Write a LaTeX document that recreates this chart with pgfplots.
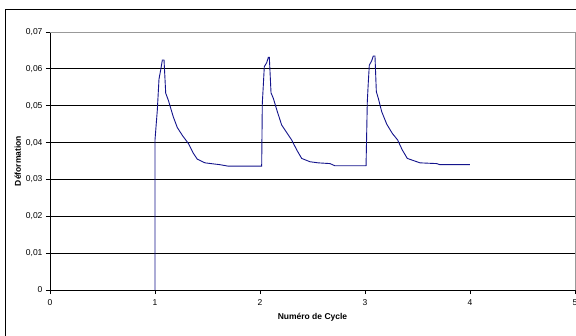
\documentclass[border=0pt]{standalone}
\usepackage{fontspec}
\setmainfont{Liberation Sans}
\usepackage{pgfplots}
\pgfplotsset{compat=1.18}
\definecolor{curve}{RGB}{20,20,140}
\begin{document}
\begin{tikzpicture}[x=1pt,y=1pt]
\useasboundingbox (0,0) rectangle (576,-335);
\fill[white] (0,0) rectangle (576,-335);
\draw[black,line width=0.8pt] (5,-9) rectangle (600,-360);
\begin{axis}[
  at={(50pt,-290pt)}, anchor=south west,
  scale only axis, width=525pt, height=258pt,
  xmin=0, xmax=5, ymin=0, ymax=0.07,
  axis x line=bottom, axis y line=left,
  axis line style={-, black, line width=0.9pt},
  xtick={0,1,2,3,4,5},
  ytick={0,0.01,0.02,0.03,0.04,0.05,0.06,0.07},
  scaled y ticks=false,
  tick align=outside, major tick length=4pt,
  tick style={black, line width=0.8pt},
  ymajorgrids, grid style={black, line width=0.9pt},
  /pgf/number format/assume math mode=true,
  /pgf/number format/use comma,
  yticklabel style={/pgf/number format/fixed, /pgf/number format/precision=2, font=\fontsize{8.5}{10}\selectfont},
  xticklabel style={font=\fontsize{8.5}{10}\selectfont, yshift=-2pt},
  xlabel={\textbf{Numéro de Cycle}},
  ylabel={\textbf{Déformation}},
  xlabel style={font=\fontsize{8.5}{10}\selectfont, yshift=-1pt},
  ylabel style={font=\fontsize{8.5}{10}\selectfont, yshift=-2pt},
  clip=false,
]
\addplot[curve, line width=0.9pt] coordinates {
(1.0,0) (1.0,0.0407) (1.022,0.0488) (1.038,0.0572) (1.054,0.0597) (1.070,0.0624) (1.086,0.0624)
(1.102,0.0534) (1.127,0.0515) (1.174,0.0470) (1.212,0.0441) (1.264,0.0418) (1.317,0.0398)
(1.365,0.0371) (1.403,0.0355) (1.476,0.0345) (1.619,0.0340) (1.698,0.0336) (2.016,0.0336)
(2.022,0.0507) (2.031,0.0552) (2.041,0.0606) (2.064,0.0617) (2.079,0.0631) (2.089,0.0631)
(2.105,0.0535) (2.127,0.0520) (2.165,0.0484) (2.206,0.0448) (2.248,0.0430) (2.302,0.0407)
(2.350,0.0380) (2.397,0.0357) (2.476,0.0348) (2.555,0.0345) (2.667,0.0343) (2.714,0.0337)
(3.010,0.0337) (3.022,0.0511) (3.031,0.0561) (3.041,0.0610) (3.064,0.0622) (3.079,0.0635)
(3.095,0.0635) (3.108,0.0538) (3.127,0.0520) (3.159,0.0484) (3.207,0.0450) (3.260,0.0425)
(3.311,0.0407) (3.355,0.0380) (3.403,0.0357) (3.524,0.0345) (3.683,0.0343) (3.714,0.0340)
(4.0,0.0340)
};
\draw[gray!80, line width=0.9pt] (axis cs:0,0.07) -- (axis cs:5,0.07) -- (axis cs:5,0);
\end{axis}
\end{tikzpicture}
\end{document}
